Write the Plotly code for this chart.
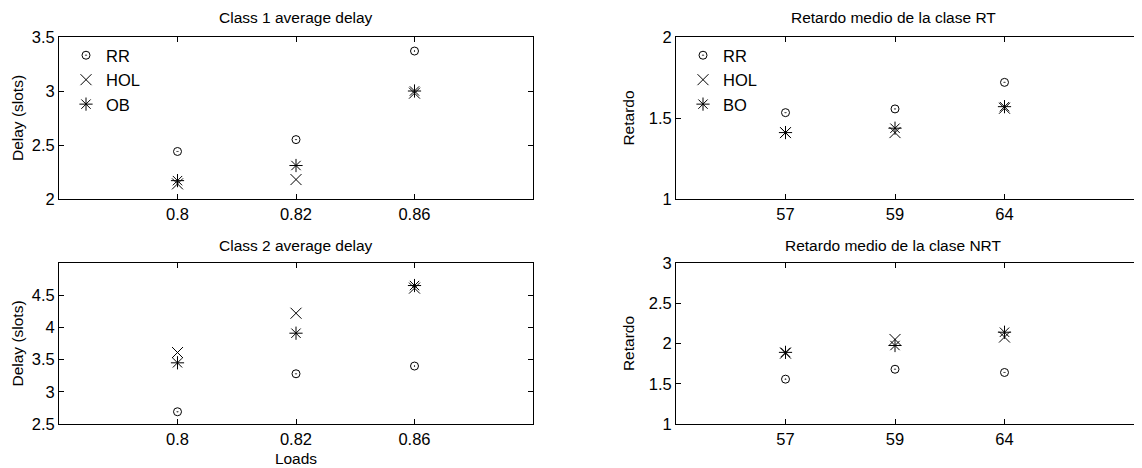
import plotly.graph_objects as go

# ---- data ----
loads = ["0.8", "0.82", "0.86"]
c1_rr = [2.44, 2.55, 3.37]
c1_hol = [2.14, 2.18, 2.98]
c1_ob = [2.17, 2.31, 3.00]

c2_rr = [2.69, 3.28, 3.40]
c2_hol = [3.61, 4.22, 4.61]
c2_ob = [3.45, 3.91, 4.65]

nrt_users = ["57", "59", "64"]
rt_rr = [1.533, 1.556, 1.72]
rt_hol = [1.41, 1.41, 1.56]
rt_bo = [1.41, 1.437, 1.57]

nrt_rr = [1.557, 1.68, 1.64]
nrt_hol = [1.88, 2.05, 2.08]
nrt_bo = [1.89, 1.975, 2.14]

FONT = "Liberation Sans"
fig = go.Figure()

sym = {"RR": ("circle-open-dot", 8), "HOL": ("x-thin-open", 11), "AST": ("asterisk-open", 11)}

def add(x, y, name, kind, xa, ya, legend, show):
    s, sz = sym[kind]
    fig.add_trace(go.Scatter(
        x=x, y=y, mode="markers", name=name, showlegend=show, legend=legend,
        xaxis=xa, yaxis=ya,
        marker=dict(symbol=s, size=sz, color="black", line=dict(color="black", width=1)),
    ))

add(loads, c1_rr, "RR", "RR", "x", "y", "legend", True)
add(loads, c1_hol, "HOL", "HOL", "x", "y", "legend", True)
add(loads, c1_ob, "OB", "AST", "x", "y", "legend", True)
add(loads, c2_rr, "RR", "RR", "x2", "y2", "legend", False)
add(loads, c2_hol, "HOL", "HOL", "x2", "y2", "legend", False)
add(loads, c2_ob, "OB", "AST", "x2", "y2", "legend", False)
add(nrt_users, rt_rr, "RR", "RR", "x3", "y3", "legend2", True)
add(nrt_users, rt_hol, "HOL", "HOL", "x3", "y3", "legend2", True)
add(nrt_users, rt_bo, "BO", "AST", "x3", "y3", "legend2", True)
add(nrt_users, nrt_rr, "RR", "RR", "x4", "y4", "legend2", False)
add(nrt_users, nrt_hol, "HOL", "HOL", "x4", "y4", "legend2", False)
add(nrt_users, nrt_bo, "BO", "AST", "x4", "y4", "legend2", False)

W, H = 1142, 468
OFF = 8  # page body margin
def px_x(p): return (p - OFF) / W
def px_y(p): return 1 - (p - OFF) / H

LX = [px_x(59), px_x(533)]
RX = [px_x(676), 1.0]
TY = [px_y(199), px_y(37)]
BY = [px_y(424), px_y(263)]
r_end = -1 + (W - (676 - OFF)) / 109.5

tickfont = dict(family=FONT, size=16.5, color="black")
ytf = dict(family=FONT, size=15.5, color="black")

def xax(domain, anchor, rng, mirror="ticks"):
    return dict(domain=domain, anchor=anchor, type="category", range=rng,
                showline=True, linecolor="black", linewidth=1, mirror=mirror,
                ticks="inside", ticklen=5, tickcolor="black", showgrid=False,
                zeroline=False, tickfont=tickfont, automargin=False)

def yax(domain, anchor, rng, tickvals, mirror, title, standoff):
    return dict(domain=domain, anchor=anchor, range=rng, tickvals=tickvals,
                showline=True, linecolor="black", linewidth=1, mirror=mirror,
                ticks="inside", ticklen=5, tickcolor="black", showgrid=False,
                zeroline=False, tickfont=tickfont, automargin=False,
                title=dict(text=title, font=ytf, standoff=standoff))

fig.update_layout(
    template="none",
    width=W, height=H, margin=dict(l=0, r=0, t=0, b=0, pad=0),
    paper_bgcolor="white", plot_bgcolor="white",
    xaxis=xax(LX, "y", [-1, 3]),
    yaxis=yax(TY, "x", [2, 3.5], [2, 2.5, 3, 3.5], "ticks", "Delay (slots)", 4),
    xaxis2=dict(xax(LX, "y2", [-1, 3]), title=dict(text="Loads", font=ytf, standoff=6)),
    yaxis2=yax(BY, "x2", [2.5, 5], [2.5, 3, 3.5, 4, 4.5], "ticks", "Delay (slots)", 4),
    xaxis3=xax(RX, "y3", [-1, r_end], mirror="ticks"),
    yaxis3=yax(TY, "x3", [1, 2], [1, 1.5, 2], False, "Retardo", 10),
    xaxis4=xax(RX, "y4", [-1, r_end], mirror="ticks"),
    yaxis4=yax(BY, "x4", [1, 3], [1, 1.5, 2, 2.5, 3], False, "Retardo", 10),
    legend=dict(x=px_x(66), y=px_y(38), xanchor="left", yanchor="top",
                bgcolor="rgba(0,0,0,0)", borderwidth=0,
                font=dict(family=FONT, size=16.5, color="black"),
                itemwidth=30, tracegroupgap=0),
    legend2=dict(x=px_x(683), y=px_y(38), xanchor="left", yanchor="top",
                 bgcolor="rgba(0,0,0,0)", borderwidth=0,
                 font=dict(family=FONT, size=16.5, color="black"),
                 itemwidth=30, tracegroupgap=0),
)

tf = dict(family=FONT, size=15.5, color="black")
titles = [("Class 1 average delay", px_x(296), px_y(17)),
          ("Class 2 average delay", px_x(296), px_y(245)),
          ("Retardo medio de la clase RT", px_x(893), px_y(17)),
          ("Retardo medio de la clase NRT", px_x(893), px_y(245))]
for t, x, y in titles:
    fig.add_annotation(text=t, x=x, y=y, xref="paper", yref="paper",
                       xanchor="center", yanchor="middle", showarrow=False, font=tf)

fig.write_html("out.html")
